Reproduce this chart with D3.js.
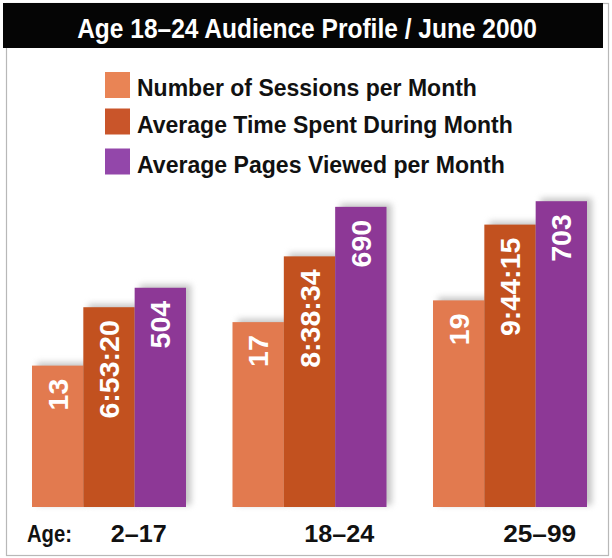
<!DOCTYPE html>
<html>
<head>
<meta charset="utf-8">
<script src="https://cdn.jsdelivr.net/npm/d3@7"></script>
<style>
  html, body { margin: 0; padding: 0; background: #fff; }
  svg { display: block; }
  text { font-family: "Liberation Sans", Arial, sans-serif; font-weight: bold; }
</style>
</head>
<body>
<svg id="chart" width="612" height="558"></svg>
<script>
// ---- data ----
const title = "Age 18–24 Audience Profile / June 2000";
const ageGroups = ["2–17", "18–24", "25–99"];
const seriesNames = [
  "Number of Sessions per Month",
  "Average Time Spent During Month",
  "Average Pages Viewed per Month"
];
const sessions = [13, 17, 19];
const timeSpent = ["6:53:20", "8:38:34", "9:44:15"];
const pagesViewed = [504, 690, 703];
const axisPrefix = "Age:";

// ---- style ----
const toHours = s => { const [h, m, sec] = s.split(":").map(Number); return h + m / 60 + sec / 3600; };
const colors = ["#E27A4F", "#C2511F", "#8D3896"];
const legendColors = ["#E98455", "#C9552A", "#9347AA"];
const legendWidths = [340, 376, 368];
const catWidths = [56, 70, 73];

const svg = d3.select("#chart");
const baseY = 507, topY = 72;

// condensed text: anchored at (x,y); if width given, scaled along writing direction to that width
function ctext(parent, x, y, str, size, fill, anchor, width, rot, sxFixed) {
  const g = parent.append("g");
  const t = g.append("text").attr("text-anchor", anchor || "start").attr("font-size", size).attr("fill", fill).text(str);
  let sx = sxFixed || 1;
  if (width) sx = width / t.node().getComputedTextLength();
  g.attr("transform", `translate(${x},${y})${rot ? ` rotate(${rot})` : ""} scale(${sx},1)`);
  return t;
}

// frame
svg.append("rect").attr("x", 6.5).attr("y", 3.5).attr("width", 602).attr("height", 552)
  .attr("fill", "none").attr("stroke", "#b8b8b8").attr("stroke-width", 1.2);

// title bar
svg.append("rect").attr("x", 3).attr("y", 3).attr("width", 600).attr("height", 45).attr("fill", "#050505");
ctext(svg, 307, 38, title, 27, "#fff", "middle", 460);

// legend
seriesNames.forEach((name, i) => {
  const cy = [85, 121.5, 161.5][i];
  svg.append("rect").attr("x", 105).attr("y", cy - 13).attr("width", 25).attr("height", 26)
    .attr("fill", legendColors[i]);
  ctext(svg, 137, cy + 11, name, 24, "#111", "start", legendWidths[i]);
});

// scales
const x0 = d3.scaleBand().domain(ageGroups).range([32, 587]).paddingInner(0.232).paddingOuter(0);
const x1 = d3.scaleBand().domain(d3.range(3)).range([0, x0.bandwidth()]).padding(0);
const ySessions = d3.scaleLinear().domain([0, 40]).range([baseY, topY]);
const yTime = d3.scaleLinear().domain([0, 15]).range([baseY, topY]);
const yPages = d3.scaleLinear().domain([0, 1000]).range([baseY, topY]);

const rows = ageGroups.map((g, i) => ({
  group: g,
  bars: [
    { s: 0, y: ySessions(sessions[i]), label: String(sessions[i]) },
    { s: 1, y: yTime(toHours(timeSpent[i])), label: timeSpent[i] },
    { s: 2, y: yPages(pagesViewed[i]), label: String(pagesViewed[i]) }
  ]
}));

// shadow filter
const defs = svg.append("defs");
defs.append("filter").attr("id", "blur").attr("x", "-30%").attr("y", "-30%").attr("width", "160%").attr("height", "160%")
  .append("feGaussianBlur").attr("stdDeviation", 3);

const groups = svg.selectAll("g.grp").data(rows).enter().append("g")
  .attr("class", "grp").attr("transform", d => `translate(${x0(d.group)},0)`);

// shadows
groups.selectAll("rect.sh").data(d => d.bars).enter().append("rect")
  .attr("class", "sh")
  .attr("x", d => x1(d.s) + 5).attr("y", d => d.y - 3)
  .attr("width", x1.bandwidth()).attr("height", d => baseY - d.y + 1)
  .attr("fill", "#8a8a8a").attr("opacity", 0.5).attr("filter", "url(#blur)");

// bars
groups.selectAll("rect.bar").data(d => d.bars).enter().append("rect")
  .attr("class", "bar")
  .attr("x", d => x1(d.s)).attr("y", d => d.y)
  .attr("width", x1.bandwidth()).attr("height", d => baseY - d.y)
  .attr("fill", d => colors[d.s]);

// value labels (rotated)
groups.each(function (d) {
  const g = d3.select(this);
  d.bars.forEach(b => {
    ctext(g, x1(b.s) + x1.bandwidth() / 2 + 10, b.y + 13, b.label, 28, "#fff", "end", null, -90, 1.02);
  });
});

// category labels
ctext(svg, 27, 542, axisPrefix, 24, "#111", "start", 45);
ageGroups.forEach((a, i) => {
  ctext(svg, x0(a) + x0.bandwidth() * 2 / 3 + 4, 542, a, 24, "#111", "middle", catWidths[i]);
});
</script>
</body>
</html>
